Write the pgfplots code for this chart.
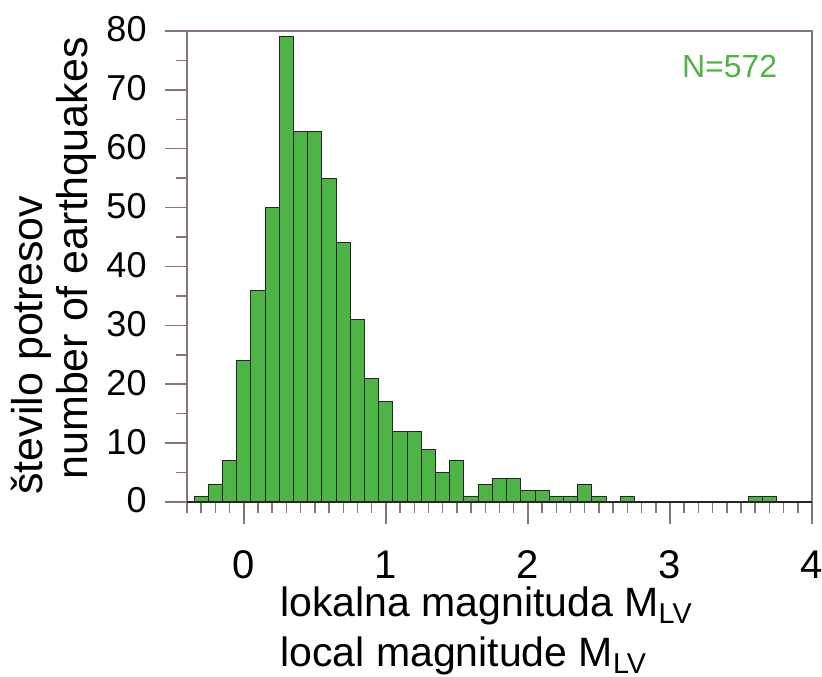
\documentclass[border=0pt]{standalone}
\usepackage{fontspec}
\setmainfont{Liberation Sans}
\usepackage{pgfplots}
\usepackage{pgfplotstable}
\pgfplotsset{compat=1.18}
\definecolor{barg}{RGB}{78,180,70}
\definecolor{axc}{RGB}{135,118,118}
\pgfplotstableread{
x y
-0.3 1
-0.2 3
-0.1 7
0.0 24
0.1 36
0.2 50
0.3 79
0.4 63
0.5 63
0.6 55
0.7 44
0.8 31
0.9 21
1.0 17
1.1 12
1.2 12
1.3 9
1.4 5
1.5 7
1.6 1
1.7 3
1.8 4
1.9 4
2.0 2
2.1 2
2.2 1
2.3 1
2.4 3
2.5 1
2.7 1
3.6 1
3.7 1
}\histdata
\begin{document}
\begin{tikzpicture}
\begin{axis}[
  scale only axis, width=312.5pt, height=235.5pt,
  xmin=-0.4, xmax=4, ymin=0, ymax=80,
  xtick={0,1,2,3,4}, ytick={0,10,...,80},
  minor xtick={-0.4,-0.3,-0.2,-0.1,0.1,0.2,0.3,0.4,0.5,0.6,0.7,0.8,0.9,1.1,1.2,1.3,1.4,1.5,1.6,1.7,1.8,1.9,2.1,2.2,2.3,2.4,2.5,2.6,2.7,2.8,2.9,3.1,3.2,3.3,3.4,3.5,3.6,3.7,3.8,3.9},
  minor ytick={5,15,...,75},
  tick pos=left, tick align=outside,
  major tick length=11pt, minor tick length=5.5pt,
  every tick/.style={axc, line width=0.75pt},
  axis line style={axc, line width=0.75pt},
  /pgf/number format/assume math mode=true,
  xticklabel style={font=\fontsize{20}{24}\selectfont, anchor=base, yshift=-27.5pt},
  yticklabel style={font=\fontsize{18}{22}\selectfont, anchor=base east, xshift=-5.7pt, yshift=-5.5pt},
  clip=false,
]
\addplot[ybar, bar width=0.1, bar shift=0pt, fill=barg, draw=black!85, line width=0.5pt] table[x=x,y=y] {\histdata};
\draw[black!85, line width=0.6pt] (rel axis cs:0,0) -- (rel axis cs:1,0);
\node[text=barg, font=\fontsize{16}{19}\selectfont] at (axis cs:3.42,74) {N=572};
\coordinate (O) at (rel axis cs:0,0);
\coordinate (TR) at (rel axis cs:1,1);
\end{axis}
\node[rotate=90, anchor=base west, inner sep=0pt, font=\fontsize{21.5}{26}\selectfont] at ([shift={(-72pt,3.5pt)}]O) {število potresov};
\node[rotate=90, anchor=base west, inner sep=0pt, font=\fontsize{21.5}{26}\selectfont] at ([shift={(-49.5pt,11pt)}]O) {number of earthquakes};
\node[anchor=base west, inner sep=0pt, font=\fontsize{20.5}{24}\selectfont] at ([shift={(46.5pt,-57.5pt)}]O) {lokalna magnituda M\textsubscript{LV}};
\node[anchor=base west, inner sep=0pt, font=\fontsize{20.5}{24}\selectfont] at ([shift={(46.5pt,-82.5pt)}]O) {local magnitude M\textsubscript{LV}};
\pgfresetboundingbox
\path ([shift={(-93.5pt,-87.5pt)}]O) rectangle ([shift={(5pt,15.5pt)}]TR);
\end{tikzpicture}
\end{document}
